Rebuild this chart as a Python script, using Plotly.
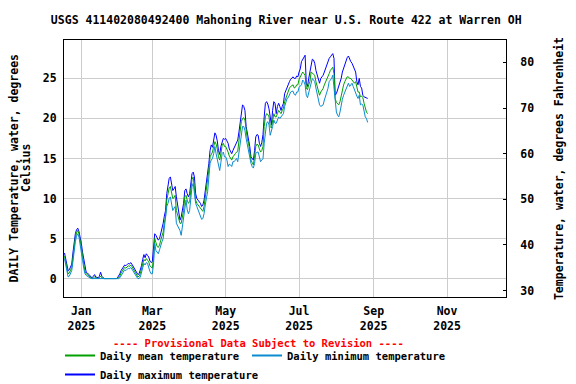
import pandas as pd
import plotly.graph_objects as go

# ---- data (deg C), daily from 2024-12-18 to 2025-08-27 ----
start_date = "2024-12-18"

max_c = [
    3.2, 2.5, 1.5, 1.0, 1.1, 1.4, 1.8, 3.2, 4.8, 5.6, 6.1, 6.3, 5.9, 5.3,  # Dec
    4.4, 3.3, 2.3, 1.2, 0.8, 0.7, 0.6, 0.4, 0.2, 0.1, 0.3, 0.5, 0.2, 0.1, 0.1, 0.3,
    0.8, 0.3, 0.1, 0.0, 0.0, 0.0, 0.0, 0.0, 0.0, 0.0, 0.0, 0.0, 0.0, 0.0, 0.1,  # Jan
    0.3, 0.6, 1.0, 1.3, 1.5, 1.7, 1.6, 1.8, 1.9, 1.8, 2.0, 1.8, 1.5, 1.2, 1.0, 0.8,
    0.5, 0.6, 1.0, 1.6, 2.4, 3.0, 2.6, 3.1, 2.9, 2.7, 2.2, 2.0,  # Feb
    2.1, 3.5, 5.6, 5.4, 5.0, 4.8, 5.0, 5.6, 6.0, 6.9, 7.8, 8.5, 10.6, 11.9, 12.5, 12.7,
    11.9, 11.0, 11.2, 11.5, 10.2, 9.0, 8.5, 7.3, 7.7, 8.6, 9.4, 11.0, 11.2, 10.6, 10.2,  # Mar
    10.6, 12.1, 13.1, 13.3, 12.7, 10.6, 10.0, 9.8, 9.6, 9.4, 9.0, 9.2, 9.8, 11.0, 12.2,
    12.8, 14.4, 16.0, 16.7, 16.4, 17.3, 18.2, 17.9, 17.2, 16.0, 15.5, 16.5, 17.1, 17.5, 17.4,  # Apr
    17.5, 17.2, 16.9, 16.2, 15.8, 15.6, 16.0, 16.3, 16.5, 16.9, 17.3, 18.3, 19.4, 20.6, 21.7,
    21.5, 21.0, 19.0, 18.2, 17.7, 16.5, 15.2, 15.0, 14.8, 16.0, 17.7, 18.0, 17.9, 16.9, 16.5, 17.0,  # May
    18.0, 20.2, 21.9, 22.1, 21.8, 21.2, 19.8, 19.2, 21.0, 22.1, 21.9, 20.6, 21.5, 21.9, 21.5,
    21.0, 21.5, 21.9, 23.1, 23.5, 24.0, 24.2, 24.6, 24.9, 25.1, 25.2, 25.0, 25.0, 25.3, 25.2,  # Jun
    25.8, 26.2, 27.1, 27.4, 27.6, 27.9, 24.4, 24.0, 25.0, 25.8, 27.1, 27.4, 27.3, 26.9, 26.0,
    25.4, 25.0, 24.4, 25.0, 25.2, 25.4, 25.8, 26.3, 26.7, 27.1, 27.5, 27.7, 27.9, 28.1, 27.5, 22.9,  # Jul
    23.1, 23.6, 24.0, 24.4, 25.0, 25.8, 26.3, 26.7, 27.3, 27.6, 27.8, 27.4, 27.1, 26.9,
    26.6, 26.2, 25.8, 24.6, 24.2, 25.0, 24.0, 23.8, 22.9, 22.7, 22.6, 22.5, 22.5,  # Aug
]

mean_c = [
    2.8, 2.1, 1.1, 0.6, 0.7, 1.0, 1.4, 2.6, 4.2, 5.1, 5.7, 6.0, 5.6, 4.9,  # Dec
    3.9, 2.8, 1.8, 0.9, 0.6, 0.5, 0.4, 0.2, 0.1, 0.0, 0.1, 0.2, 0.1, 0.0, 0.0, 0.1,
    0.3, 0.1, 0.0, 0.0, 0.0, 0.0, 0.0, 0.0, 0.0, 0.0, 0.0, 0.0, 0.0, 0.0, 0.0,  # Jan
    0.1, 0.3, 0.7, 1.0, 1.2, 1.4, 1.3, 1.5, 1.6, 1.5, 1.7, 1.5, 1.2, 0.9, 0.7, 0.5,
    0.2, 0.3, 0.6, 1.2, 1.9, 2.4, 2.2, 2.5, 2.3, 2.1, 1.6, 1.4,  # Feb
    1.3, 2.5, 5.0, 4.5, 4.0, 3.9, 4.2, 4.8, 5.2, 5.8, 7.0, 7.7, 9.8, 10.8, 11.3, 11.5,
    10.6, 10.0, 10.1, 10.4, 8.5, 8.0, 7.7, 6.9, 6.9, 7.6, 8.5, 10.2, 10.4, 9.8, 9.4,  # Mar
    9.6, 11.0, 12.4, 12.7, 11.5, 9.8, 9.4, 9.2, 9.0, 8.8, 8.5, 8.4, 9.0, 10.2, 11.2,
    12.0, 13.6, 15.2, 15.6, 15.8, 16.5, 17.1, 16.8, 16.2, 15.2, 14.8, 15.6, 16.6, 16.9, 16.5,  # Apr
    16.5, 16.2, 15.8, 15.3, 15.0, 14.8, 15.2, 15.5, 15.6, 15.8, 15.9, 17.2, 18.3, 19.6, 20.0,
    20.1, 19.8, 18.1, 17.4, 16.9, 16.0, 14.8, 14.5, 14.2, 15.2, 16.5, 16.8, 16.7, 16.2, 15.8, 16.0,  # May
    16.5, 19.0, 20.2, 20.6, 20.5, 20.2, 19.0, 18.8, 19.8, 20.6, 20.2, 20.2, 20.6, 21.0, 20.8,
    20.6, 21.0, 21.3, 22.1, 22.5, 23.1, 23.4, 23.8, 24.0, 24.1, 24.2, 23.8, 23.9, 24.2, 24.2,  # Jun
    24.9, 25.2, 25.6, 25.8, 25.6, 25.4, 23.8, 23.6, 24.2, 24.6, 25.8, 25.7, 25.6, 25.4, 24.6,
    23.9, 23.5, 22.9, 23.3, 23.5, 23.75, 24.2, 24.5, 24.8, 25.2, 25.6, 26.0, 26.3, 26.4, 25.6, 22.5,  # Jul
    22.0, 21.8, 21.7, 22.1, 22.9, 23.8, 24.2, 24.6, 25.0, 25.2, 25.2, 25.0, 25.0, 24.8,
    24.6, 24.4, 24.6, 23.8, 23.3, 23.3, 22.7, 22.8, 22.6, 21.9, 21.3, 20.8, 20.6,  # Aug
]

min_c = [
    2.5, 1.7, 0.7, 0.2, 0.3, 0.6, 1.0, 2.1, 3.6, 4.6, 5.3, 5.6, 5.2, 4.4,  # Dec
    3.4, 2.3, 1.3, 0.6, 0.4, 0.3, 0.2, 0.0, 0.0, 0.0, 0.0, 0.0, 0.0, 0.0, 0.0, 0.0,
    0.0, 0.0, 0.0, 0.0, 0.0, 0.0, 0.0, 0.0, 0.0, 0.0, 0.0, 0.0, 0.0, 0.0, 0.0,  # Jan
    0.0, 0.1, 0.4, 0.7, 0.9, 1.1, 1.0, 1.2, 1.3, 1.2, 1.4, 1.2, 0.9, 0.6, 0.4, 0.2,
    0.0, 0.0, 0.2, 0.8, 1.4, 1.9, 1.7, 2.0, 1.9, 1.3, 0.9, 0.6,  # Feb
    0.6, 1.8, 4.4, 3.5, 3.2, 3.1, 3.6, 4.2, 4.6, 5.0, 6.4, 7.3, 9.0, 9.4, 10.0, 10.2,
    9.0, 8.5, 8.8, 9.0, 6.9, 6.6, 6.5, 6.0, 5.4, 6.5, 7.3, 9.0, 9.8, 8.6, 8.1,  # Mar
    8.5, 10.0, 11.5, 11.9, 10.2, 9.4, 9.0, 8.6, 8.2, 7.8, 7.4, 7.5, 8.1, 9.2, 10.1,
    10.9, 12.7, 14.4, 14.8, 15.0, 15.6, 16.5, 15.6, 15.0, 14.4, 13.5, 14.5, 15.6, 15.8, 15.2,  # Apr
    15.2, 14.8, 14.0, 14.3, 14.2, 14.0, 14.6, 14.6, 14.8, 15.0, 14.6, 15.8, 16.8, 18.5, 19.0,
    19.0, 18.5, 17.5, 16.6, 16.0, 15.2, 14.4, 14.0, 13.8, 14.4, 15.6, 15.8, 15.8, 15.2, 14.6, 14.8,  # May
    15.0, 16.9, 18.5, 19.4, 19.6, 19.2, 17.9, 18.4, 19.0, 19.8, 19.4, 19.4, 19.8, 20.2, 20.0,
    20.2, 20.4, 20.6, 21.5, 21.9, 22.5, 22.6, 23.1, 23.3, 23.4, 23.4, 23.0, 22.9, 23.3, 23.3,  # Jun
    23.9, 24.1, 24.2, 24.8, 24.6, 24.2, 22.9, 22.6, 23.3, 23.8, 24.4, 25.0, 24.8, 24.6, 23.8,
    23.0, 22.5, 21.7, 21.5, 21.6, 21.7, 22.3, 22.7, 23.1, 23.75, 24.6, 24.8, 25.0, 25.4, 23.8, 21.7,  # Jul
    20.8, 20.4, 20.2, 20.8, 21.8, 22.4, 22.9, 23.3, 23.75, 24.2, 24.4, 24.0, 24.2, 24.4,
    24.0, 23.5, 23.3, 22.8, 22.5, 22.9, 21.7, 21.8, 21.7, 20.8, 20.2, 20.0, 19.5,  # Aug
]

x_tick_vals = ["2025-01-01", "2025-03-01", "2025-05-01", "2025-07-01", "2025-09-01", "2025-11-01"]
x_tick_text = ["Jan<br>2025", "Mar<br>2025", "May<br>2025", "Jul<br>2025", "Sep<br>2025", "Nov<br>2025"]
yc_ticks = [0, 5, 10, 15, 20, 25]
yf_ticks = [30, 40, 50, 60, 70, 80]
left_title_lines = ["DAILY Temperature, water, degrees", "Celsius"]

dates = pd.date_range(start_date, periods=len(mean_c), freq="D")
mean_f = [c * 1.8 + 32 for c in mean_c]

FONT = "DejaVu Sans Mono"
C_MEAN = "#00A000"
C_MIN = "#0A8BD0"
C_MAX = "#0000FF"
F_RANGE = [28.6, 84.9]

series = [  # (name, values, colour, legend box, legend rank)
    ("Daily maximum temperature", max_c, C_MAX, "legend", 3),
    ("Daily mean temperature", mean_c, C_MEAN, "legend", 1),
    ("Daily minimum temperature", min_c, C_MIN, "legend2", 2),
]

fig = go.Figure()
for name, vals, col, leg, rank in series:
    fig.add_trace(go.Scatter(x=dates, y=vals, mode="lines", name=name,
                             line=dict(color=col, width=1), legendgroup=name,
                             showlegend=False))
# legend keys (2 px wide, as in the reference legend)
for name, vals, col, leg, rank in series:
    fig.add_trace(go.Scatter(x=[None], y=[None], mode="lines", name=name,
                             line=dict(color=col, width=2), legendgroup=name,
                             legend=leg, legendrank=rank, hoverinfo="skip"))
# Fahrenheit companions (invisible) so the right-hand axis labels and tick marks are drawn
for ax in ("y2", "y3"):
    fig.add_trace(go.Scatter(x=dates, y=mean_f, mode="lines", yaxis=ax, showlegend=False,
                             hoverinfo="skip", opacity=0, line=dict(color=C_MEAN, width=1)))

tick_font = dict(family=FONT, size=11.5, color="black", weight="bold")
title_font = dict(family=FONT, size=11.5, color="black", weight="bold")
legend_font = dict(family=FONT, size=10.5, color="black", weight="bold")

fig.update_layout(
    width=576, height=384,
    margin=dict(l=64, r=70, t=40, b=87, autoexpand=False),
    paper_bgcolor="white", plot_bgcolor="white",
    font=dict(family=FONT, size=11.5, color="black", weight="bold"),
    title=dict(text="USGS 411402080492400 Mahoning River near U.S. Route 422 at Warren OH",
               x=0.497, xanchor="center", y=1 - 20 / 384, yanchor="middle", font=title_font),
    xaxis=dict(type="date", range=["2024-12-17 14:00", "2025-12-20"],
               tickmode="array", tickvals=x_tick_vals, ticktext=x_tick_text,
               showgrid=True, gridcolor="#CCCCCC", gridwidth=1,
               showline=True, linecolor="black", linewidth=1, mirror=True,
               ticks="outside", ticklen=3, tickcolor="rgba(0,0,0,0)",
               tickfont=tick_font, zeroline=False),
    yaxis=dict(range=[-2.3, 29.8], tickmode="array", tickvals=yc_ticks,
               showgrid=True, gridcolor="#CCCCCC", gridwidth=1,
               showline=True, linecolor="black", linewidth=1, mirror=True,
               ticks="outside", ticklen=4, tickcolor="rgba(0,0,0,0)",
               tickfont=tick_font, zeroline=False),
    yaxis2=dict(overlaying="y", side="right", range=F_RANGE, tickmode="array",
                tickvals=yf_ticks, showgrid=False, zeroline=False,
                ticks="outside", ticklen=11, tickcolor="rgba(0,0,0,0)", tickfont=tick_font,
                title=dict(text="Temperature, water, degrees Fahrenheit",
                           font=title_font, standoff=21)),
    yaxis3=dict(overlaying="y", side="right", range=F_RANGE, tickmode="array",
                tickvals=yf_ticks, showgrid=False, zeroline=False, showticklabels=False,
                ticks="inside", ticklen=3, tickcolor="black"),
    showlegend=True,
    legend=dict(orientation="v", xref="container", yref="container",
                x=60 / 576, xanchor="left", y=1 - 341 / 384, yanchor="top",
                font=legend_font, tracegroupgap=0, bgcolor="rgba(0,0,0,0)"),
    legend2=dict(orientation="v", xref="container", yref="container",
                 x=247 / 576, xanchor="left", y=1 - 341 / 384, yanchor="top",
                 font=legend_font, tracegroupgap=0, bgcolor="rgba(0,0,0,0)"),
)

# left axis title, two rotated lines
for txt, px in zip(left_title_lines, (13, 25.5)):
    fig.add_annotation(text=txt, xref="paper", yref="paper", x=(px - 64) / 442, y=0.5,
                       xanchor="center", yanchor="middle", textangle=-90, showarrow=False,
                       font=title_font)

fig.add_annotation(text="---- Provisional Data Subject to Revision ----",
                   xref="paper", yref="paper", x=(258 - 64) / 442, y=-(343 - 297) / 257,
                   xanchor="center", yanchor="middle", showarrow=False,
                   font=dict(family=FONT, size=10.5, color="red", weight="bold"))

fig.write_html("out.html", config={"displayModeBar": False},
               post_script="document.body.style.margin='0';")
